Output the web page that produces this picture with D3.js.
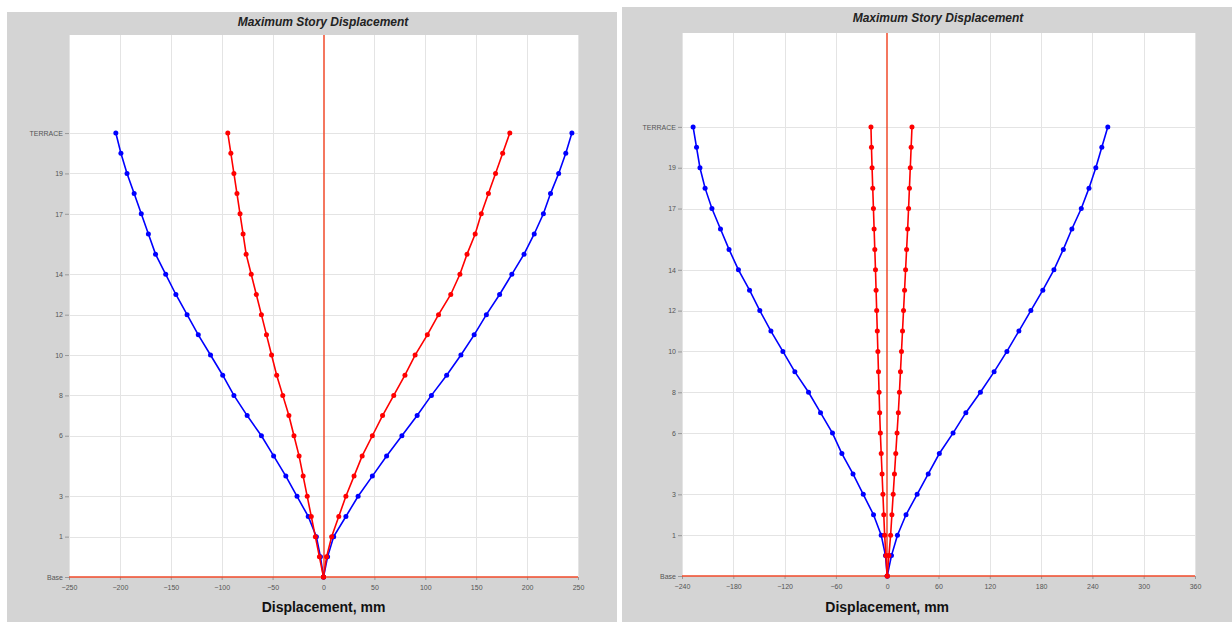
<!DOCTYPE html>
<html>
<head>
<meta charset="utf-8">
<script src="https://cdn.jsdelivr.net/npm/d3@7"></script>
<style>
  body { margin: 0; background: #fff; }
  svg { display: block; }
  .tick text { font-family: Arial, "Liberation Sans", sans-serif; font-size: 7px; fill: #555; }
</style>
</head>
<body>
<div class="chart"></div>
<script>
// story levels, bottom to top (one unlabelled level sits between Base and 1)
const stories = ["Base", "GF", "1", "2", "3", "4", "5", "6", "7", "8", "9", "10", "11", "12",
  "13", "14", "15", "16", "17", "18", "19", "20", "TERRACE"];
const storyLabels = ["Base", "1", "3", "6", "8", "10", "12", "14", "17", "19", "TERRACE"];

const xTicksA = [-250, -200, -150, -100, -50, 0, 50, 100, 150, 200, 250];
const xTicksB = [-240, -180, -120, -60, 0, 60, 120, 180, 240, 300, 360];

// left chart, displacement in mm per story
const blueNegA = [0, -3, -7, -15, -26, -37, -49, -61, -75, -88, -99, -111, -123, -134, -145, -155, -165, -172, -179, -186, -193, -199, -204];
const bluePosA = [0, 4, 10, 22, 34, 48, 62, 77, 92, 106, 121, 135, 148, 160, 173, 185, 197, 207, 216, 223, 231, 238, 244];
const redNegA  = [0, -4, -8, -12, -16, -20, -24, -29, -34, -40, -46, -51, -56, -61, -66, -71, -76, -79, -82, -85, -88, -91, -94];
const redPosA  = [0, 3, 8, 15, 22, 30, 38, 48, 58, 69, 80, 90, 102, 113, 125, 134, 141, 149, 155, 162, 169, 176, 183];

// right chart
const blueNegB = [0, -2, -7, -16, -28, -40, -53, -64, -78, -92, -108, -122, -136, -149, -161, -174, -185, -195, -205, -213, -219, -223, -227];
const bluePosB = [0, 5, 12, 22, 35, 48, 61, 77, 92, 109, 125, 140, 154, 168, 182, 195, 206, 216, 227, 236, 244, 251, 258];
const redNegB  = [0, -1.5, -3, -4, -5, -6, -7, -8, -8.8, -9.5, -10.2, -10.9, -11.6, -12.3, -13, -13.7, -14.5, -15.3, -16.1, -16.9, -17.7, -18.4, -19];
const redPosB  = [0, 2, 4, 5.5, 7, 8.5, 10, 11.5, 13, 14.3, 15.5, 16.7, 17.9, 19.1, 20.3, 21.5, 22.7, 23.9, 25, 26, 27, 28, 29];

const svg = d3.select(".chart").append("svg")
  .attr("width", 1232)
  .attr("height", 622);

// snap a coordinate to the pixel grid so 1px lines stay sharp
const crisp = v => Math.round(v) + 0.5;

function drawPanel(p) {
  const g = svg.append("g");

  g.append("rect")
    .attr("x", p.box[0]).attr("y", p.box[1])
    .attr("width", p.box[2]).attr("height", p.box[3])
    .attr("fill", "#d4d4d4");

  g.append("rect")
    .attr("x", p.left).attr("y", p.top)
    .attr("width", p.right - p.left).attr("height", p.bottom - p.top)
    .attr("fill", "#fff");

  const x = d3.scaleLinear().domain(p.xDomain).range([p.left, p.right]);
  const y = d3.scaleLinear().domain([0, p.yMax]).range([p.bottom, p.top]);

  const labelIdx = storyLabels.map(s => stories.indexOf(s));

  // grid
  g.append("g").selectAll("line")
    .data(p.xTicks.filter(d => d !== 0))
    .enter().append("line")
    .attr("x1", d => crisp(x(d))).attr("x2", d => crisp(x(d)))
    .attr("y1", p.top).attr("y2", p.bottom)
    .attr("stroke", "#e4e4e4").attr("stroke-width", 1);

  g.append("g").selectAll("line")
    .data(labelIdx.filter(d => d > 0))
    .enter().append("line")
    .attr("x1", p.left).attr("x2", p.right)
    .attr("y1", d => crisp(y(d))).attr("y2", d => crisp(y(d)))
    .attr("stroke", "#e4e4e4").attr("stroke-width", 1);

  // axes
  const xAxis = g.append("g")
    .attr("transform", "translate(0," + p.bottom + ")")
    .call(d3.axisBottom(x).tickValues(p.xTicks).tickSize(3).tickPadding(5));
  const yAxis = g.append("g")
    .attr("transform", "translate(" + p.left + ",0)")
    .call(d3.axisLeft(y).tickValues(labelIdx).tickFormat(i => stories[i]).tickSize(4).tickPadding(2));
  [xAxis, yAxis].forEach(a => {
    a.select(".domain").remove();
    a.selectAll(".tick line").attr("stroke", "#999");
  });

  // zero lines
  g.append("line")
    .attr("x1", Math.round(x(0))).attr("x2", Math.round(x(0))).attr("y1", p.top).attr("y2", p.bottom)
    .attr("stroke", "#f04a2a").attr("stroke-width", 1.5);
  g.append("line")
    .attr("x1", p.left).attr("x2", p.right).attr("y1", Math.round(y(0))).attr("y2", Math.round(y(0)))
    .attr("stroke", "#f04a2a").attr("stroke-width", 1.5);

  const line = d3.line().x(d => x(d)).y((d, i) => y(i));

  p.series.forEach(s => {
    g.append("path")
      .datum(s.values)
      .attr("d", line)
      .attr("fill", "none")
      .attr("stroke", s.color)
      .attr("stroke-width", 1.6);
    g.append("g").selectAll("circle")
      .data(s.values)
      .enter().append("circle")
      .attr("cx", d => x(d))
      .attr("cy", (d, i) => y(i))
      .attr("r", 2.5)
      .attr("fill", s.color);
  });

  g.append("text")
    .attr("x", p.titleX).attr("y", p.titleY)
    .attr("text-anchor", "middle")
    .style("font-family", "Arial, 'Liberation Sans', sans-serif")
    .style("font-size", "12px").style("font-weight", "bold").style("font-style", "italic")
    .attr("fill", "#222")
    .text("Maximum Story Displacement");

  g.append("text")
    .attr("x", x(0)).attr("y", 612)
    .attr("text-anchor", "middle")
    .style("font-family", "Arial, 'Liberation Sans', sans-serif")
    .style("font-size", "14px").style("font-weight", "bold")
    .attr("fill", "#111")
    .text("Displacement, mm");
}

drawPanel({
  box: [7, 12, 610, 610],
  left: 69, right: 578, top: 35, bottom: 577,
  xDomain: [-250, 250], xTicks: xTicksA, yMax: 26.86,
  titleX: 323, titleY: 26,
  series: [
    { values: blueNegA, color: "#0000ff" },
    { values: bluePosA, color: "#0000ff" },
    { values: redNegA, color: "#ff0000" },
    { values: redPosA, color: "#ff0000" }
  ]
});

drawPanel({
  box: [622, 7, 610, 615],
  left: 682, right: 1195, top: 33, bottom: 576,
  xDomain: [-240, 360], xTicks: xTicksB, yMax: 26.6,
  titleX: 938, titleY: 22,
  series: [
    { values: blueNegB, color: "#0000ff" },
    { values: bluePosB, color: "#0000ff" },
    { values: redNegB, color: "#ff0000" },
    { values: redPosB, color: "#ff0000" }
  ]
});
</script>
</body>
</html>
